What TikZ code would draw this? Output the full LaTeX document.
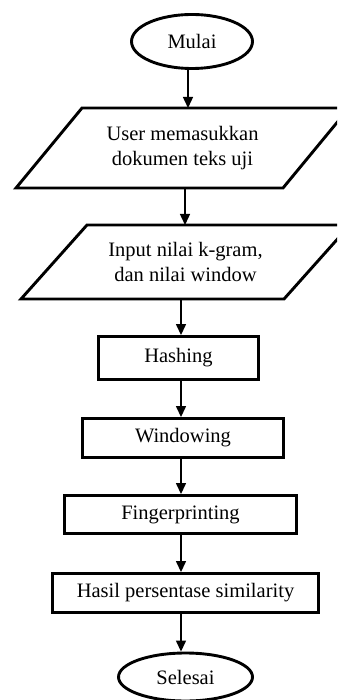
\documentclass[tikz,border=0pt]{standalone}
\usepackage{fontspec}
\setmainfont{Liberation Serif}
\usetikzlibrary{shapes.geometric}
\usetikzlibrary{arrows.meta}
\tikzstyle{flow_line}=[draw=black, line width=2.9pt, line join=miter]
\tikzstyle{flow_shape}=[flow_line, inner sep=0pt, align=center,
    font=\fontsize{20.5}{25}\selectfont]
\tikzstyle{flow_terminal}=[flow_shape, ellipse]
\tikzstyle{flow_io}=[flow_shape, draw=none, rectangle, outer sep=0pt]
\tikzstyle{flow_process}=[flow_shape, rectangle]
\tikzstyle{flow_arrow}=[-{Triangle[width=10pt,length=11pt]}, line width=1.4pt]

\begin{document}
\begin{tikzpicture}[x=1pt, y=-1pt]
              \useasboundingbox (0,0) rectangle (337,700);
              \clip (0,0) rectangle (337,700);
              \node[flow_terminal, minimum width=121pt, minimum height=54pt] (mulai) at (192,41.5){Mulai};
              \node[flow_io, minimum width=267pt, minimum height=80pt] (input_doc) at (182.5,148){User memasukkan\\dokumen teks uji};
              \node[flow_io, minimum width=263pt, minimum height=74pt] (input_param) at (185.5,262){Input nilai k-gram,\\dan nilai window};
              \node[flow_process, minimum width=160pt, minimum height=43pt] (hashing) at (178.5,358){Hashing};
              \node[flow_process, minimum width=201pt, minimum height=39pt] (windowing) at (183,438){Windowing};
              \node[flow_process, minimum width=232pt, minimum height=38pt] (fingerprint) at (180.5,514.5){Fingerprinting};
              \node[flow_process, minimum width=266pt, minimum height=39pt] (hasil) at (185.5,593){Hasil persentase similarity};
              \node[flow_terminal, minimum width=134pt, minimum height=48pt] (selesai) at (185.5,677){Selesai};
              % parallelogram outlines round the two input nodes
              \draw[flow_line]([xshift=-33pt]input_doc.south west) -- ([xshift=-33pt]input_doc.south east)
                  -- ([xshift=33pt]input_doc.north east) -- ([xshift=33pt]input_doc.north west) -- cycle;
              \draw[flow_line]([xshift=-33pt]input_param.south west) -- ([xshift=-33pt]input_param.south east)
                  -- ([xshift=33pt]input_param.north east) -- ([xshift=33pt]input_param.north west) -- cycle;
              \coordinate (spine) at (181,0);
              \draw[flow_arrow]([xshift=-4pt]mulai.south) -- ([xshift=-4pt]mulai.south |- input_doc.north);
              \draw[flow_arrow]([xshift=2.5pt]input_doc.south) -- ([xshift=2.5pt]input_doc.south |- input_param.north);
              \draw[flow_arrow](input_param.south -| spine) -- (hashing.north -| spine);
              \draw[flow_arrow](hashing.south -| spine) -- (windowing.north -| spine);
              \draw[flow_arrow](windowing.south -| spine) -- (fingerprint.north -| spine);
              \draw[flow_arrow](fingerprint.south -| spine) -- (hasil.north -| spine);
              \draw[flow_arrow](hasil.south -| spine) -- (selesai.north -| spine);
            \end{tikzpicture}
\end{document}
